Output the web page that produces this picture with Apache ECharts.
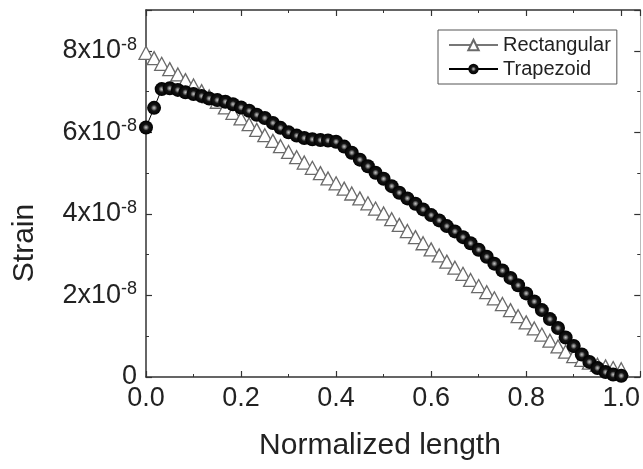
<!DOCTYPE html>
<html>
<head>
<meta charset="utf-8">
<script src="https://cdn.jsdelivr.net/npm/echarts@6/dist/echarts.min.js"></script>
<style>
  html, body { margin: 0; padding: 0; background: #fff; }
  #chart { width: 643px; height: 469px; }
</style>
</head>
<body>
<div id="chart"></div>
<script>
// 横坐标：归一化长度
const xPos = [
  0, 0.017, 0.033, 0.05, 0.067, 0.083, 0.1, 0.117, 0.133, 0.15,
  0.167, 0.183, 0.2, 0.217, 0.233, 0.25, 0.267, 0.283, 0.3, 0.317,
  0.333, 0.35, 0.367, 0.383, 0.4, 0.417, 0.433, 0.45, 0.467, 0.483,
  0.5, 0.517, 0.533, 0.55, 0.567, 0.583, 0.6, 0.617, 0.633, 0.65,
  0.667, 0.683, 0.7, 0.717, 0.733, 0.75, 0.767, 0.783, 0.8, 0.817,
  0.833, 0.85, 0.867, 0.883, 0.9, 0.917, 0.933, 0.95, 0.967, 0.983, 1.0
]

// 应变（单位 1e-8）
const rectStrain = [
  7.95, 7.82, 7.68, 7.55, 7.42, 7.28, 7.15, 7.01, 6.88, 6.75,
  6.61, 6.48, 6.34, 6.20, 6.06, 5.93, 5.79, 5.66, 5.52, 5.39,
  5.26, 5.13, 5.00, 4.87, 4.75, 4.62, 4.50, 4.38, 4.26, 4.13,
  4.01, 3.87, 3.73, 3.58, 3.43, 3.28, 3.13, 2.98, 2.83, 2.68,
  2.53, 2.38, 2.23, 2.08, 1.93, 1.79, 1.64, 1.49, 1.34, 1.19,
  1.04, 0.89, 0.75, 0.62, 0.51, 0.42, 0.35, 0.30, 0.26, 0.22, 0.19
]
const trapStrain = [
  6.12, 6.60, 7.06, 7.08, 7.04, 6.98, 6.94, 6.89, 6.83, 6.79,
  6.75, 6.69, 6.61, 6.53, 6.43, 6.35, 6.23, 6.11, 6.00, 5.92,
  5.86, 5.83, 5.81, 5.80, 5.77, 5.65, 5.50, 5.33, 5.17, 5.01,
  4.86, 4.68, 4.52, 4.38, 4.25, 4.11, 3.97, 3.84, 3.70, 3.57,
  3.43, 3.28, 3.12, 2.95, 2.78, 2.61, 2.43, 2.25, 2.05, 1.85,
  1.64, 1.42, 1.20, 0.97, 0.76, 0.55, 0.37, 0.22, 0.12, 0.06, 0.03
]

const seriesNames = ['Rectangular', 'Trapezoid']

const font = 'Liberation Sans, Arial, sans-serif'
const axisColor = '#333'

const dom = document.querySelector('#chart')
const myChart = echarts.init(dom)

// 公共的坐标轴样式
function frameAxis(extra) {
  return Object.assign({
    axisLine: { onZero: false, lineStyle: { color: axisColor, width: 1.5 } },
    axisTick: { inside: true, length: 6, lineStyle: { color: axisColor, width: 1.2 } },
    minorTick: { show: true, splitNumber: 2, length: 3, lineStyle: { color: axisColor, width: 1 } },
    splitLine: { show: false }
  }, extra)
}

const option = {
  animation: false,
  backgroundColor: '#fff',
  grid: { left: 146, right: 0, top: 10, bottom: 92 },
  legend: {
    data: seriesNames,
    orient: 'vertical',
    left: 438,
    top: 30,
    padding: [5, 6, 5, 10],
    itemGap: 4,
    itemWidth: 49,
    itemHeight: 13,
    borderColor: '#555',
    borderWidth: 1,
    textStyle: { fontFamily: font, fontSize: 20, color: '#222' }
  },
  xAxis: [
    frameAxis({
      type: 'value', min: 0, max: 1.04, interval: 0.2,
      axisLabel: {
        fontFamily: font, fontSize: 27, color: '#222', margin: 8,
        showMaxLabel: false,
        formatter: v => v.toFixed(1)
      }
    }),
    frameAxis({
      type: 'value', position: 'top', min: 0, max: 1.04, interval: 0.2,
      axisLabel: { show: false }
    })
  ],
  yAxis: [
    frameAxis({
      type: 'value', min: 0, max: 9, interval: 2,
      axisLabel: {
        fontFamily: font, color: '#222', margin: 9,
        showMaxLabel: false,
        formatter: v => v === 0 ? '{z|0}' : '{b|' + v + 'x10}{s|-8}',
        rich: {
          z: { fontFamily: font, fontSize: 27, color: '#222' },
          b: { fontFamily: font, fontSize: 27, color: '#222', lineHeight: 30 },
          s: { fontFamily: font, fontSize: 18, color: '#222', verticalAlign: 'top', lineHeight: 18 }
        }
      }
    }),
    frameAxis({
      type: 'value', position: 'right', min: 0, max: 9, interval: 2,
      axisLine: { onZero: false, lineStyle: { color: '#bbb', width: 1 } },
      axisLabel: { show: false }
    })
  ],
  graphic: [
    {
      type: 'text', x: 380, y: 446,
      style: { text: 'Normalized length', font: '30px ' + font, fill: '#222', align: 'center', verticalAlign: 'middle' }
    },
    {
      type: 'text', x: 25, y: 243, rotation: Math.PI / 2,
      style: { text: 'Strain', font: '30px ' + font, fill: '#222', align: 'center', verticalAlign: 'middle' }
    }
  ],
  series: [
    {
      name: seriesNames[0],
      type: 'line',
      data: xPos.map((x, i) => [x, rectStrain[i]]),
      symbol: 'triangle',
      symbolSize: [14, 13],
      showAllSymbol: true,
      lineStyle: { color: '#777', width: 1 },
      itemStyle: { color: '#fff', borderColor: '#6a6a6a', borderWidth: 1.3 }
    },
    {
      name: seriesNames[1],
      type: 'line',
      data: xPos.map((x, i) => [x, trapStrain[i]]),
      symbol: 'circle',
      symbolSize: 14,
      showAllSymbol: true,
      lineStyle: { color: '#000', width: 1 },
      itemStyle: {
        color: {
          type: 'radial', x: 0.5, y: 0.5, r: 0.5,
          colorStops: [
            { offset: 0, color: '#c4c4c4' },
            { offset: 0.2, color: '#808080' },
            { offset: 0.45, color: '#151515' },
            { offset: 1, color: '#000' }
          ]
        },
        borderWidth: 0
      }
    }
  ]
}

myChart.setOption(option)
</script>
</body>
</html>
